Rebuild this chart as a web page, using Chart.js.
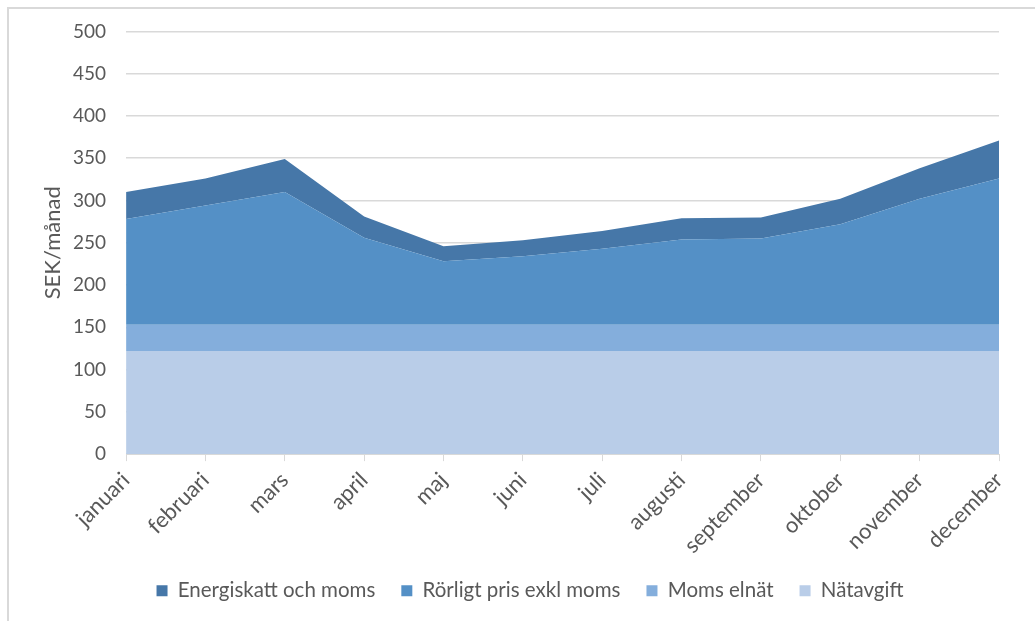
<!DOCTYPE html>
<html lang="sv">
<head>
<meta charset="utf-8">
<title>SEK/månad</title>
<script src="https://cdn.jsdelivr.net/npm/chart.js@4/dist/chart.umd.min.js"></script>
<style>
  html, body { margin: 0; padding: 0; background: #fff; overflow: hidden; }
  #wrap { position: relative; width: 1035px; height: 621px; }
  #ram { position: absolute; left: 7px; top: 7px; right: -10px; bottom: -10px;
         border-left: 2px solid #d9d9d9; border-top: 2px solid #d9d9d9; }
  canvas { position: absolute; left: 0; top: 0; }
</style>
</head>
<body>
<div id="wrap">
  <div id="ram"></div>
  <canvas id="diagram" width="1035" height="621"></canvas>
</div>
<script>
// månader och kostnadsdelar (SEK/månad)
const manader = ['januari', 'februari', 'mars', 'april', 'maj', 'juni', 'juli',
  'augusti', 'september', 'oktober', 'november', 'december'];
const natavgift = [122, 122, 122, 122, 122, 122, 122, 122, 122, 122, 122, 122];
const momsElnat = [31, 31, 31, 31, 31, 31, 31, 31, 31, 31, 31, 31];
const rorligtPris = [125, 141, 157, 103, 75, 81, 90, 101, 102, 119, 149, 173];
const energiskatt = [32, 32, 39, 25, 18, 19, 21, 25, 25, 30, 36, 45];
const yTicks = [0, 50, 100, 150, 200, 250, 300, 350, 400, 450, 500];
const yTitel = 'SEK/månad';

const textfarg = '#595959';
const typsnitt = 'Lato, "Open Sans", sans-serif';

function lager(namn, data, farg) {
  return {
    label: namn,
    data: data,
    backgroundColor: farg,
    borderColor: farg,
    borderWidth: 0,
    pointRadius: 0,
    pointHoverRadius: 0,
    tension: 0,
    fill: 'stack'
  };
}

// nedersta lagret först, legenden visas omvänd
const datasets = [
  lager('Nätavgift', natavgift, '#b9cde8'),
  lager('Moms elnät', momsElnat, '#84aedc'),
  lager('Rörligt pris exkl moms', rorligtPris, '#5490c6'),
  lager('Energiskatt och moms', energiskatt, '#4677a8')
];

// flytta legenden lite åt höger
const legendFlytt = {
  id: 'legendFlytt',
  afterLayout(chart) {
    chart.legend.left += 4;
    chart.legend.right += 4;
  }
};

// lodrät axeltitel till vänster om y-axelns etiketter
const axelTitel = {
  id: 'axelTitel',
  afterDraw(chart) {
    const { ctx, chartArea } = chart;
    ctx.save();
    ctx.translate(53, (chartArea.top + chartArea.bottom) / 2);
    ctx.rotate(-Math.PI / 2);
    ctx.textAlign = 'center';
    ctx.textBaseline = 'middle';
    ctx.fillStyle = textfarg;
    ctx.font = '22px ' + typsnitt;
    ctx.fillText(yTitel, 0, 0);
    ctx.restore();
  }
};

new Chart(document.getElementById('diagram').getContext('2d'), {
  type: 'line',
  data: { labels: manader, datasets: datasets },
  plugins: [legendFlytt, axelTitel],
  options: {
    responsive: false,
    animation: false,
    layout: { padding: { left: 53, right: 36, top: 25, bottom: 10 } },
    plugins: {
      tooltip: { enabled: false },
      legend: {
        position: 'bottom',
        reverse: true,
        labels: {
          boxWidth: 11,
          boxHeight: 11,
          padding: 26,
          color: textfarg,
          font: { family: typsnitt, size: 20.5 }
        }
      }
    },
    scales: {
      x: {
        offset: false,
        grid: { drawOnChartArea: false, drawTicks: true, tickLength: 7, color: '#d9d9d9' },
        border: { color: '#d9d9d9', width: 1 },
        ticks: {
          color: textfarg,
          maxRotation: 45,
          minRotation: 45,
          padding: 6,
          font: { family: typsnitt, size: 22 }
        },
        // de lutande etiketterna ska inte trycka in ritytan
        afterFit: axel => {
          axel.paddingLeft = 0;
          axel.paddingRight = 0;
          axel.height -= 10;
        }
      },
      y: {
        stacked: true,
        min: 0,
        max: 500,
        afterBuildTicks: axel => { axel.ticks = yTicks.map(v => ({ value: v })); },
        grid: { color: '#d9d9d9', lineWidth: 1.5, drawTicks: false },
        border: { display: false },
        ticks: {
          color: textfarg,
          padding: 20,
          font: { family: typsnitt, size: 19 }
        }
      }
    }
  }
});
</script>
</body>
</html>
